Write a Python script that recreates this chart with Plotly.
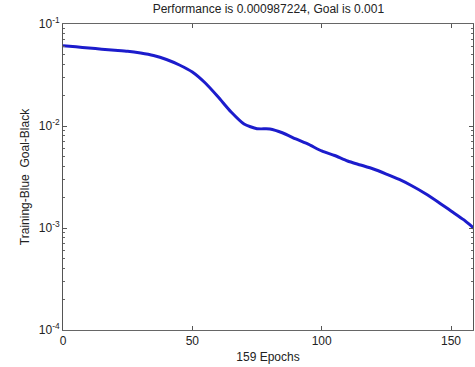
import plotly.graph_objects as go

# Data
epochs = [0, 5, 10, 15, 20, 25, 30, 35, 40, 45, 50, 55, 60, 65, 70, 75, 80,
          85, 90, 95, 100, 105, 110, 115, 120, 125, 130, 135, 140, 145, 150,
          155, 159]
performance = [0.06128, 0.05976, 0.05816, 0.05660, 0.05535, 0.05412, 0.05197,
               0.04912, 0.04487, 0.03963, 0.03384, 0.02640, 0.01924, 0.01372,
               0.01046, 0.00941, 0.00935, 0.00854, 0.00746, 0.00659, 0.00569,
               0.00514, 0.00454, 0.00415, 0.00379, 0.00338, 0.00299, 0.00258,
               0.00218, 0.00180, 0.00147, 0.00120, 0.000987224]

x_ticks = [0, 50, 100, 150]
y_tickvals = [1e-4, 1e-3, 1e-2, 1e-1]
y_ticktext = ["10<sup>-4</sup>", "10<sup>-3</sup>", "10<sup>-2</sup>", "10<sup>-1</sup>"]
y_minor_vals = [m * d for d in (1e-4, 1e-3, 1e-2) for m in range(2, 10)]

title_text = "Performance is 0.000987224, Goal is 0.001"
x_title = "159 Epochs"
y_title = "Training-Blue  Goal-Black"

font_family = "Liberation Sans, Arial, sans-serif"

fig = go.Figure()
fig.add_trace(go.Scatter(
    x=epochs, y=performance, mode="lines",
    line=dict(color="#1c1ccc", width=3, shape="spline", smoothing=0.6),
    showlegend=False, hoverinfo="skip",
))

fig.update_layout(
    width=475, height=367,
    margin=dict(l=63, r=2, t=24, b=37),
    paper_bgcolor="white", plot_bgcolor="white",
    font=dict(family=font_family, size=12, color="#222"),
    title=dict(text=title_text, x=0.565, xanchor="center", y=0.975,
               yanchor="middle", font=dict(size=12, color="#222")),
)

fig.update_xaxes(
    range=[0, 158.5], tickvals=x_ticks, ticks="inside", ticklen=4,
    tickcolor="#555", showline=True, linecolor="#666", linewidth=1,
    mirror="ticks", showgrid=False, zeroline=False, automargin=False,
    title=dict(text=x_title, standoff=5, font=dict(size=12)),
    tickfont=dict(size=12),
)
fig.update_yaxes(
    type="log", range=[-4, -1], tickvals=y_tickvals, ticktext=y_ticktext,
    ticks="inside", ticklen=4, tickcolor="#555",
    showline=True, linecolor="#555", linewidth=1, mirror="ticks",
    showgrid=False, zeroline=False, automargin=False,
    minor=dict(ticks="inside", ticklen=2, tickcolor="#666", showgrid=False,
               tickvals=y_minor_vals),
    title=dict(text=y_title, standoff=6, font=dict(size=12)),
    tickfont=dict(size=12),
)

fig.write_html(
    "out.html",
    config={"displayModeBar": False},
    post_script="document.body.style.margin='0';document.body.style.overflow='hidden';",
)
